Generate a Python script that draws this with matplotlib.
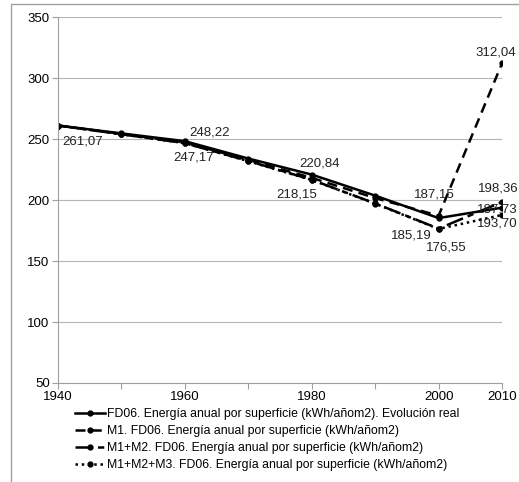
import matplotlib.pyplot as plt
from matplotlib.patches import Rectangle

plt.rcParams['font.family'] = ['Liberation Sans', 'DejaVu Sans']

# datos
years = [1940, 1950, 1960, 1970, 1980, 1990, 2000, 2010]
real = [261.07, 254.6, 248.22, 234.0, 220.84, 203.6, 185.19, 193.70]
m1 = [261.07, 254.2, 247.17, 232.8, 218.15, 201.6, 187.15, 312.04]
m1m2 = [261.07, 253.9, 246.6, 232.0, 216.6, 197.2, 176.55, 198.36]
m1m2m3 = [261.07, 253.9, 246.6, 231.8, 216.4, 197.0, 176.3, 187.73]

labels = [
    "FD06. Energía anual por superficie (kWh/añom2). Evolución real",
    "M1. FD06. Energía anual por superficie (kWh/añom2)",
    "M1+M2. FD06. Energía anual por superficie (kWh/añom2)",
    "M1+M2+M3. FD06. Energía anual por superficie (kWh/añom2)",
]

# etiquetas de datos: (año, valor, desplazamiento en pixeles)
anotaciones = [
    (1940, 261.07, (4, -16)),
    (1960, 248.22, (4, 9)),
    (1960, 247.17, (-12, -15)),
    (1980, 220.84, (-12, 11)),
    (1980, 218.15, (-35, -17)),
    (2000, 187.15, (-25, 21)),
    (2000, 185.19, (-48, -17)),
    (2000, 176.55, (-13, -19)),
    (2010, 312.04, (-27, 11)),
    (2010, 198.36, (-24, 14)),
    (2010, 187.73, (-25, 5)),
    (2010, 193.70, (-25, -16)),
]

fig = plt.figure(figsize=(5.19, 4.82), dpi=100)
ax = fig.add_axes([0.1118, 0.2054, 0.8555, 0.7593])

fig.patches.append(Rectangle((11 / 519, -0.05), 1.1, 1 - 4 / 482 + 0.05,
                             transform=fig.transFigure, fill=False,
                             edgecolor='#a0a0a0', linewidth=1))

kw = dict(color='black', marker='o', markersize=3.5, linewidth=1.8)
ax.plot(years, real, linestyle='-', label=labels[0], **kw)
ax.plot(years, m1, linestyle=(0, (4, 2.5)), label=labels[1], **kw)
ax.plot(years, m1m2, linestyle=(0, (7, 2, 2.5, 2)), label=labels[2], **kw)
ax.plot(years, m1m2m3, linestyle=(0, (1, 1.5)), label=labels[3], **kw)

for x, v, off in anotaciones:
    ax.annotate(f"{v:.2f}".replace('.', ','), (x, v), xytext=off,
                textcoords='offset pixels', fontsize=9.5, ha='left',
                va='center', color='#222222')

ax.set_xlim(1940, 2010)
ax.set_ylim(50, 350)
ax.set_yticks(range(50, 351, 50))
ax.set_xticks(range(1940, 2011, 10))
ax.set_xticklabels(['1940', '', '1960', '', '1980', '', '2000', '2010'])
ax.tick_params(axis='both', labelsize=9.5, length=4, color='#a0a0a0',
               width=0.8, pad=2)
ax.grid(axis='y', color='#b5b5b5', linewidth=0.8)
ax.set_axisbelow(True)
for s in ['top', 'right']:
    ax.spines[s].set_visible(False)
for s in ['left', 'bottom']:
    ax.spines[s].set_color('#a0a0a0')
    ax.spines[s].set_linewidth(0.8)

ax.legend(loc='upper left', bbox_to_anchor=(0.027, -0.055), frameon=False,
          fontsize=8.8, handlelength=2.45, handletextpad=0.15,
          labelspacing=0.42, borderaxespad=0)

fig.savefig('out.png', dpi=100)
